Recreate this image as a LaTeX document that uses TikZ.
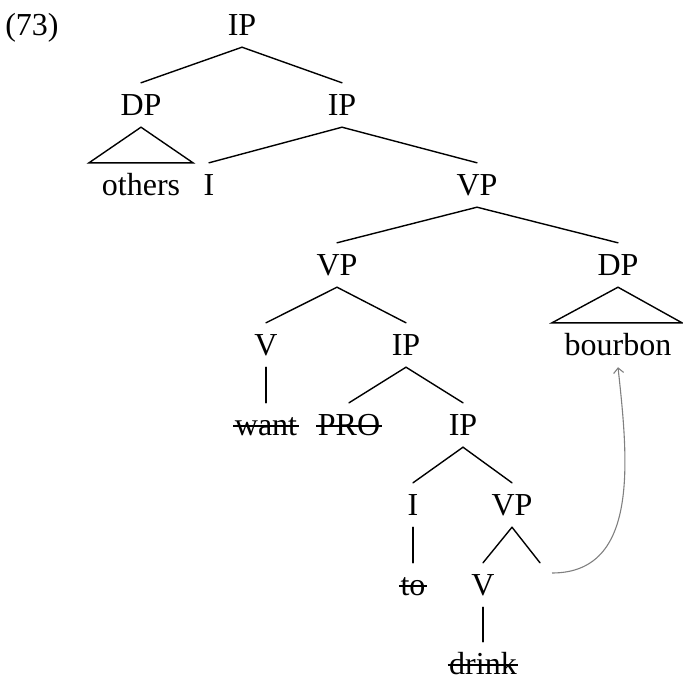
\documentclass[tikz,border=0pt]{standalone}
\usepackage{fontspec}
\setmainfont{Liberation Serif}
\usetikzlibrary{calc,arrows.meta}

\tikzset{
  lbl/.style={inner sep=0pt, text height=32pt, text depth=12pt,
              font=\fontsize{32}{38}\selectfont},
  branch/.style={line width=1.4pt, line cap=round},
  strikeline/.style={line width=1.3pt},
  movearrow/.style={draw=gray, line width=1.1pt,
                    -{Straight Barb[length=5pt,width=10pt]}}
}
% horizontal rule through a node's text, a little above the baseline
\newcommand\strikenode[1]{%
  \draw[strikeline] ($(#1.west)+(-1.5,1)$) -- ($(#1.east)+(1.5,1)$);}

\begin{document}
\begin{tikzpicture}[x=1pt, y=-1pt]
  \useasboundingbox (0,0) rectangle (683,680);

  % example number
  \node[lbl] (num) at (32,25) {(73)};

  % tree nodes
  \node[lbl] (ipA)  at (242,25)  {IP};
  \node[lbl] (dpA)  at (141,105) {DP};
  \node[lbl] (oth)  at (141,185) {others};
  \node[lbl] (ipB)  at (342,105) {IP};
  \node[lbl] (iA)   at (209,185) {I};
  \node[lbl] (vpA)  at (477,185) {VP};
  \node[lbl] (vpB)  at (337,265) {VP};
  \node[lbl] (dpB)  at (618,265) {DP};
  \node[lbl] (bour) at (618,345) {bourbon};
  \node[lbl] (vA)   at (266,345) {V};
  \node[lbl] (ipC)  at (406,345) {IP};
  \node[lbl] (want) at (266,425) {want};
  \node[lbl] (pro)  at (349,425) {PRO};
  \node[lbl] (ipD)  at (463,425) {IP};
  \node[lbl] (iB)   at (413,505) {I};
  \node[lbl] (vpC)  at (512,505) {VP};
  \node[lbl] (to)   at (413,585) {to};
  \node[lbl] (vB)   at (483,585) {V};
  \node[lbl] (trc)  at (540,585) {};
  \node[lbl] (drk)  at (483,664) {drink};

  % deleted copies
  \strikenode{want}
  \strikenode{pro}
  \strikenode{to}
  \strikenode{drk}

  % branches
  \draw[branch] (ipA.south) -- (dpA.north);
  \draw[branch] (ipA.south) -- (ipB.north);
  \draw[branch] (dpA.south) -- ($(oth.north)+(-52,0)$)
                            -- ($(oth.north)+(52,0)$) -- cycle;
  \draw[branch] (ipB.south) -- (iA.north);
  \draw[branch] (ipB.south) -- (vpA.north);
  \draw[branch] (vpA.south) -- (vpB.north);
  \draw[branch] (vpA.south) -- (dpB.north);
  \draw[branch] (dpB.south) -- ($(bour.north)+(-66,0)$)
                            -- ($(bour.north)+(64,0)$) -- cycle;
  \draw[branch] (vpB.south) -- (vA.north);
  \draw[branch] (vpB.south) -- (ipC.north);
  \draw[branch] (vA.south) -- (want.north);
  \draw[branch] (ipC.south) -- (pro.north);
  \draw[branch] (ipC.south) -- (ipD.north);
  \draw[branch] (ipD.south) -- (iB.north);
  \draw[branch] (ipD.south) -- (vpC.north);
  \draw[branch] (iB.south) -- (to.north);
  \draw[branch] (vpC.south) -- (vB.north);
  \draw[branch] (vpC.south) -- (trc.north);
  \draw[branch] (vB.south) -- (drk.north);

  % movement of the object
  \coordinate (mvstart) at ($(trc.center)+(12,-12)$);
  \draw[movearrow] (mvstart) .. controls ($(mvstart)+(88,0)$)
        and ($(bour.south)+(10,92)$) .. (bour.south);
\end{tikzpicture}
\end{document}
